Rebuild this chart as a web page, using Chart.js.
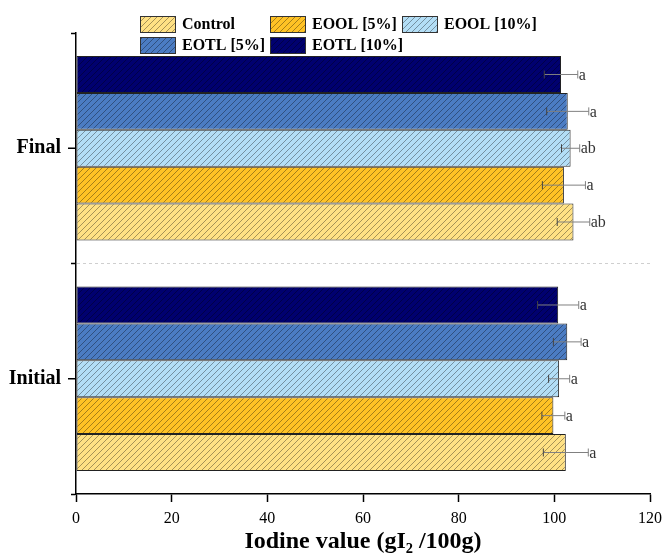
<!DOCTYPE html>
<html>
<head>
<meta charset="utf-8">
<title>Iodine value</title>
<script src="https://cdn.jsdelivr.net/npm/chart.js@4.4.0/dist/chart.umd.min.js"></script>
<style>
    html, body { margin: 0; padding: 0; background: #fff; }
    #wrap { width: 664px; height: 553px; position: relative; }
</style>
</head>
<body>
<div id="wrap"><canvas id="iodineChart"></canvas></div>
<script>
// Data
const stages = ['Final', 'Initial'];
const seriesNames = ['Control', 'EOOL [5%]', 'EOOL [10%]', 'EOTL [5%]', 'EOTL [10%]'];
const control = [104.0, 102.4];
const eool5 = [102.0, 99.8];
const eool10 = [103.4, 101.0];
const eotl5 = [102.8, 102.7];
const eotl10 = [101.4, 100.8];
const controlErr = [3.4, 4.7];
const eool5Err = [4.5, 2.4];
const eool10Err = [1.9, 2.2];
const eotl5Err = [4.4, 2.9];
const eotl10Err = [3.5, 4.3];
const controlSig = ['ab', 'a'];
const eool5Sig = ['a', 'a'];
const eool10Sig = ['ab', 'a'];
const eotl5Sig = ['a', 'a'];
const eotl10Sig = ['a', 'a'];
const xTicks = [0, 20, 40, 60, 80, 100, 120];

const SERIF = "'Liberation Serif', 'Times New Roman', serif";
const baseColors = ['#FFE184', '#FFC225', '#B3DEF6', '#4B7CC3', '#00006F'];

// hatched fill "/" like the original
function hatch(color) {
    const c = document.createElement('canvas');
    c.width = 6;
    c.height = 6;
    const g = c.getContext('2d');
    g.fillStyle = color;
    g.fillRect(0, 0, 6, 6);
    g.strokeStyle = 'rgba(0,0,0,0.5)';
    g.lineWidth = 0.7;
    g.beginPath();
    g.moveTo(-1, 7); g.lineTo(7, -1);
    g.moveTo(-1, 1); g.lineTo(1, -1);
    g.moveTo(5, 7); g.lineTo(7, 5);
    g.stroke();
    return g.createPattern(c, 'repeat');
}

const values = [control, eool5, eool10, eotl5, eotl10];
const errors = [controlErr, eool5Err, eool10Err, eotl5Err, eotl10Err];
const letters = [controlSig, eool5Sig, eool10Sig, eotl5Sig, eotl10Sig];

// top bar in each group is EOTL [10%], bottom one is Control
const datasets = seriesNames.map((name, i) => ({
    label: name,
    data: values[i],
    err: errors[i],
    sig: letters[i],
    backgroundColor: hatch(baseColors[i]),
    borderColor: '#222',
    borderWidth: 1,
    borderSkipped: false,
    barPercentage: 1.0,
    categoryPercentage: 0.8
})).reverse();

// error bars, significance letters, centre ticks and dashed divider
const extrasPlugin = {
    id: 'extras',
    afterDatasetsDraw(chart) {
        const ctx = chart.ctx;
        const xs = chart.scales.x;
        const ys = chart.scales.y;
        const area = chart.chartArea;
        ctx.save();

        // dashed line between the two groups
        const midY = (ys.getPixelForValue(0) + ys.getPixelForValue(1)) / 2;
        ctx.strokeStyle = '#cfcfcf';
        ctx.lineWidth = 1;
        ctx.setLineDash([3, 3]);
        ctx.beginPath();
        ctx.moveTo(area.left + 1, midY);
        ctx.lineTo(area.right, midY);
        ctx.stroke();
        ctx.setLineDash([]);

        // ticks at the category labels
        ctx.strokeStyle = '#000';
        ctx.lineWidth = 1.5;
        stages.forEach((s, i) => {
            const y = ys.getPixelForValue(i);
            ctx.beginPath();
            ctx.moveTo(area.left - 8, y);
            ctx.lineTo(area.left, y);
            ctx.stroke();
        });

        chart.data.datasets.forEach((ds, di) => {
            const meta = chart.getDatasetMeta(di);
            meta.data.forEach((bar, j) => {
                const v = ds.data[j];
                const e = ds.err[j];
                const x0 = xs.getPixelForValue(v - e);
                const x1 = xs.getPixelForValue(v + e);
                const y = bar.y;
                ctx.strokeStyle = '#808080';
                ctx.lineWidth = 1;
                ctx.beginPath();
                ctx.moveTo(x0, y);
                ctx.lineTo(x1, y);
                ctx.moveTo(x1, y - 4);
                ctx.lineTo(x1, y + 4);
                ctx.stroke();
                ctx.strokeStyle = '#444';
                ctx.beginPath();
                ctx.moveTo(x0, y - 4);
                ctx.lineTo(x0, y + 4);
                ctx.stroke();
                ctx.fillStyle = '#333';
                ctx.font = '16px ' + SERIF;
                ctx.textAlign = 'left';
                ctx.textBaseline = 'middle';
                ctx.fillText(ds.sig[j], x1 + 1, y + 1);
            });
        });
        ctx.restore();
    },
    afterDraw(chart) {
        // legend laid out in a grid, three columns
        const ctx = chart.ctx;
        const cols = [140, 270, 402];
        const rows = [16, 37];
        ctx.save();
        ctx.font = 'bold 16px ' + SERIF;
        ctx.textAlign = 'left';
        ctx.textBaseline = 'middle';
        seriesNames.forEach((name, i) => {
            const bx = cols[i % 3];
            const by = rows[Math.floor(i / 3)];
            ctx.fillStyle = '#fff';
            ctx.fillRect(bx - 1, by - 1, 38 + ctx.measureText(name).width + 8, 20);
            ctx.fillStyle = hatch(baseColors[i]);
            ctx.fillRect(bx, by, 36, 17);
            ctx.strokeStyle = '#333';
            ctx.lineWidth = 1;
            ctx.strokeRect(bx + 0.5, by + 0.5, 35, 16);
            ctx.fillStyle = '#000';
            ctx.fillText(name, bx + 42, by + 9);
        });
        ctx.restore();
    }
};

new Chart(document.getElementById('iodineChart'), {
    type: 'bar',
    data: {
        labels: stages,
        datasets: datasets
    },
    options: {
        indexAxis: 'y',
        responsive: true,
        maintainAspectRatio: false,
        animation: false,
        layout: {
            padding: { left: 0, right: 14, top: 33, bottom: 0 }
        },
        plugins: {
            legend: { display: false },
            tooltip: { enabled: false }
        },
        scales: {
            x: {
                min: 0,
                max: 120,
                afterBuildTicks: function(scale) {
                    scale.ticks = xTicks.map(v => ({ value: v }));
                },
                afterFit: function(scale) {
                    scale.height = 59;
                    scale.paddingLeft = 0;
                    scale.paddingRight = 0;
                },
                grid: {
                    drawOnChartArea: false,
                    tickLength: 8,
                    tickColor: '#000',
                    tickWidth: 1.5
                },
                border: { color: '#000', width: 1.5 },
                ticks: {
                    color: '#000',
                    padding: 7,
                    font: { family: SERIF, size: 16 }
                },
                title: {
                    display: true,
                    text: 'Iodine value (gI\u2082 /100g)',
                    color: '#000',
                    font: { family: SERIF, size: 24, weight: 'bold', lineHeight: 1 },
                    padding: { top: 0, bottom: -1 }
                }
            },
            y: {
                afterFit: function(scale) {
                    scale.width = 76;
                },
                grid: {
                    drawOnChartArea: false,
                    offset: true,
                    tickLength: 5,
                    tickColor: '#000',
                    tickWidth: 1.5
                },
                border: { color: '#000', width: 1.5 },
                ticks: {
                    color: '#000',
                    padding: 10,
                    font: { family: SERIF, size: 20, weight: 'bold' }
                }
            }
        }
    },
    plugins: [extrasPlugin]
});
</script>
</body>
</html>
